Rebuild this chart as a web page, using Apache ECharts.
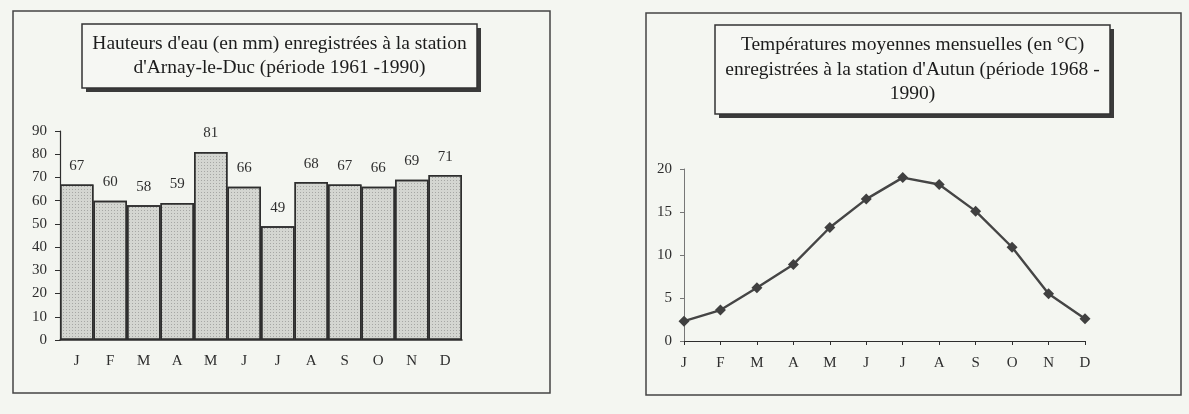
<!DOCTYPE html>
<html>
<head>
<meta charset="utf-8">
<script src="https://cdn.jsdelivr.net/npm/echarts@6/dist/echarts.min.js"></script>
<style>
  html, body { margin: 0; padding: 0; background: #f4f6f1; }
  #chart { width: 1189px; height: 414px; }
</style>
</head>
<body>
<div id="chart"></div>
<script>
// mois (initiales)
const months = ['J', 'F', 'M', 'A', 'M', 'J', 'J', 'A', 'S', 'O', 'N', 'D'];
// hauteurs d'eau (mm) - Arnay-le-Duc 1961-1990
const rainfall = [67, 60, 58, 59, 81, 66, 49, 68, 67, 66, 69, 71];
// températures moyennes (°C) - Autun 1968-1990
const temperature = [2.3, 3.6, 6.2, 8.9, 13.2, 16.5, 19.0, 18.2, 15.1, 10.9, 5.5, 2.6];

const titleRain = "Hauteurs d'eau (en mm) enregistrées à la station\nd'Arnay-le-Duc (période 1961 -1990)";
const titleTemp = "Températures moyennes mensuelles (en °C)\nenregistrées à la station d'Autun (période 1968 -\n1990)";

const ink = '#2e2e2e';
const serif = '"Liberation Serif", "DejaVu Serif", serif';

function titleText(text, cx, top, lh) {
  return {
    text: text,
    left: cx,
    top: top,
    textAlign: 'center',
    padding: 0,
    textStyle: {
      fontFamily: serif,
      fontSize: 19.5,
      fontWeight: 'normal',
      color: '#1c1c1c',
      lineHeight: lh
    }
  };
}

// cadre du titre + ombre portée
function titleBox(x, y, w, h) {
  return [
    {
      type: 'rect', silent: true, z: -5,
      shape: { x: x + 4, y: y + 4, width: w, height: h },
      style: { fill: '#3a3a3a' }
    },
    {
      type: 'rect', silent: true, z: -4,
      shape: { x: x, y: y, width: w, height: h },
      style: { fill: '#f6f7f3', stroke: '#333', lineWidth: 1.5 }
    }
  ];
}

function frame(x, y, w, h) {
  return {
    type: 'rect',
    silent: true,
    z: -10,
    shape: { x: x, y: y, width: w, height: h },
    style: { fill: 'none', stroke: '#444', lineWidth: 1.5 }
  };
}

const axisText = { fontFamily: serif, fontSize: 15, color: ink };

const option = {
  backgroundColor: '#f4f6f1',
  animation: false,
  title: [
    titleText(titleRain, 279.5, 32, 24),
    titleText(titleTemp, 912.5, 33, 24.5)
  ],
  graphic: [
    frame(13, 11, 537, 382),
    frame(646, 13, 535, 382)
  ].concat(titleBox(82, 24, 395, 64), titleBox(715, 25, 395, 89)),
  grid: [
    { left: 60, top: 131, width: 402, height: 209 },
    { left: 684, top: 169, width: 401, height: 172 }
  ],
  xAxis: [
    {
      gridIndex: 0,
      type: 'category',
      data: months,
      axisLine: { lineStyle: { color: ink, width: 1.5 } },
      axisTick: { length: 5, lineStyle: { color: ink } },
      axisLabel: Object.assign({ margin: 14 }, axisText)
    },
    {
      gridIndex: 1,
      type: 'category',
      data: months,
      boundaryGap: false,
      axisLine: { lineStyle: { color: ink, width: 1.2 } },
      axisTick: { length: 4, lineStyle: { color: ink } },
      axisLabel: Object.assign({ margin: 15 }, axisText)
    }
  ],
  yAxis: [
    {
      gridIndex: 0,
      type: 'value',
      min: 0,
      max: 90,
      interval: 10,
      axisLine: { show: true, lineStyle: { color: ink, width: 1.2 } },
      axisTick: { show: true, length: 5, lineStyle: { color: ink } },
      splitLine: { show: false },
      axisLabel: Object.assign({ margin: 13 }, axisText)
    },
    {
      gridIndex: 1,
      type: 'value',
      min: 0,
      max: 20,
      interval: 5,
      axisLine: { show: true, lineStyle: { color: '#777', width: 1 } },
      axisTick: { show: true, length: 4, lineStyle: { color: '#777' } },
      splitLine: { show: false },
      axisLabel: Object.assign({ margin: 12 }, axisText)
    }
  ],
  series: [
    {
      name: 'Hauteurs d\'eau',
      type: 'bar',
      xAxisIndex: 0,
      yAxisIndex: 0,
      data: rainfall,
      barCategoryGap: 0,
      itemStyle: {
        color: '#d4d6d1',
        borderColor: ink,
        borderWidth: 1.5,
        decal: {
          symbol: 'rect',
          symbolSize: 1,
          dashArrayX: [1, 2],
          dashArrayY: [1, 2],
          color: 'rgba(80,80,80,0.35)'
        }
      },
      label: {
        show: true,
        position: 'top',
        distance: 11,
        fontFamily: serif,
        fontSize: 15,
        color: ink
      }
    },
    {
      name: 'Températures',
      type: 'line',
      xAxisIndex: 1,
      yAxisIndex: 1,
      data: temperature,
      symbol: 'diamond',
      symbolSize: 11,
      lineStyle: { color: '#454545', width: 2.4 },
      itemStyle: { color: '#404040' }
    }
  ]
};

const chart = echarts.init(document.getElementById('chart'));
chart.setOption(option);
window.addEventListener('resize', () => {
  chart.resize();
});
</script>
</body>
</html>
